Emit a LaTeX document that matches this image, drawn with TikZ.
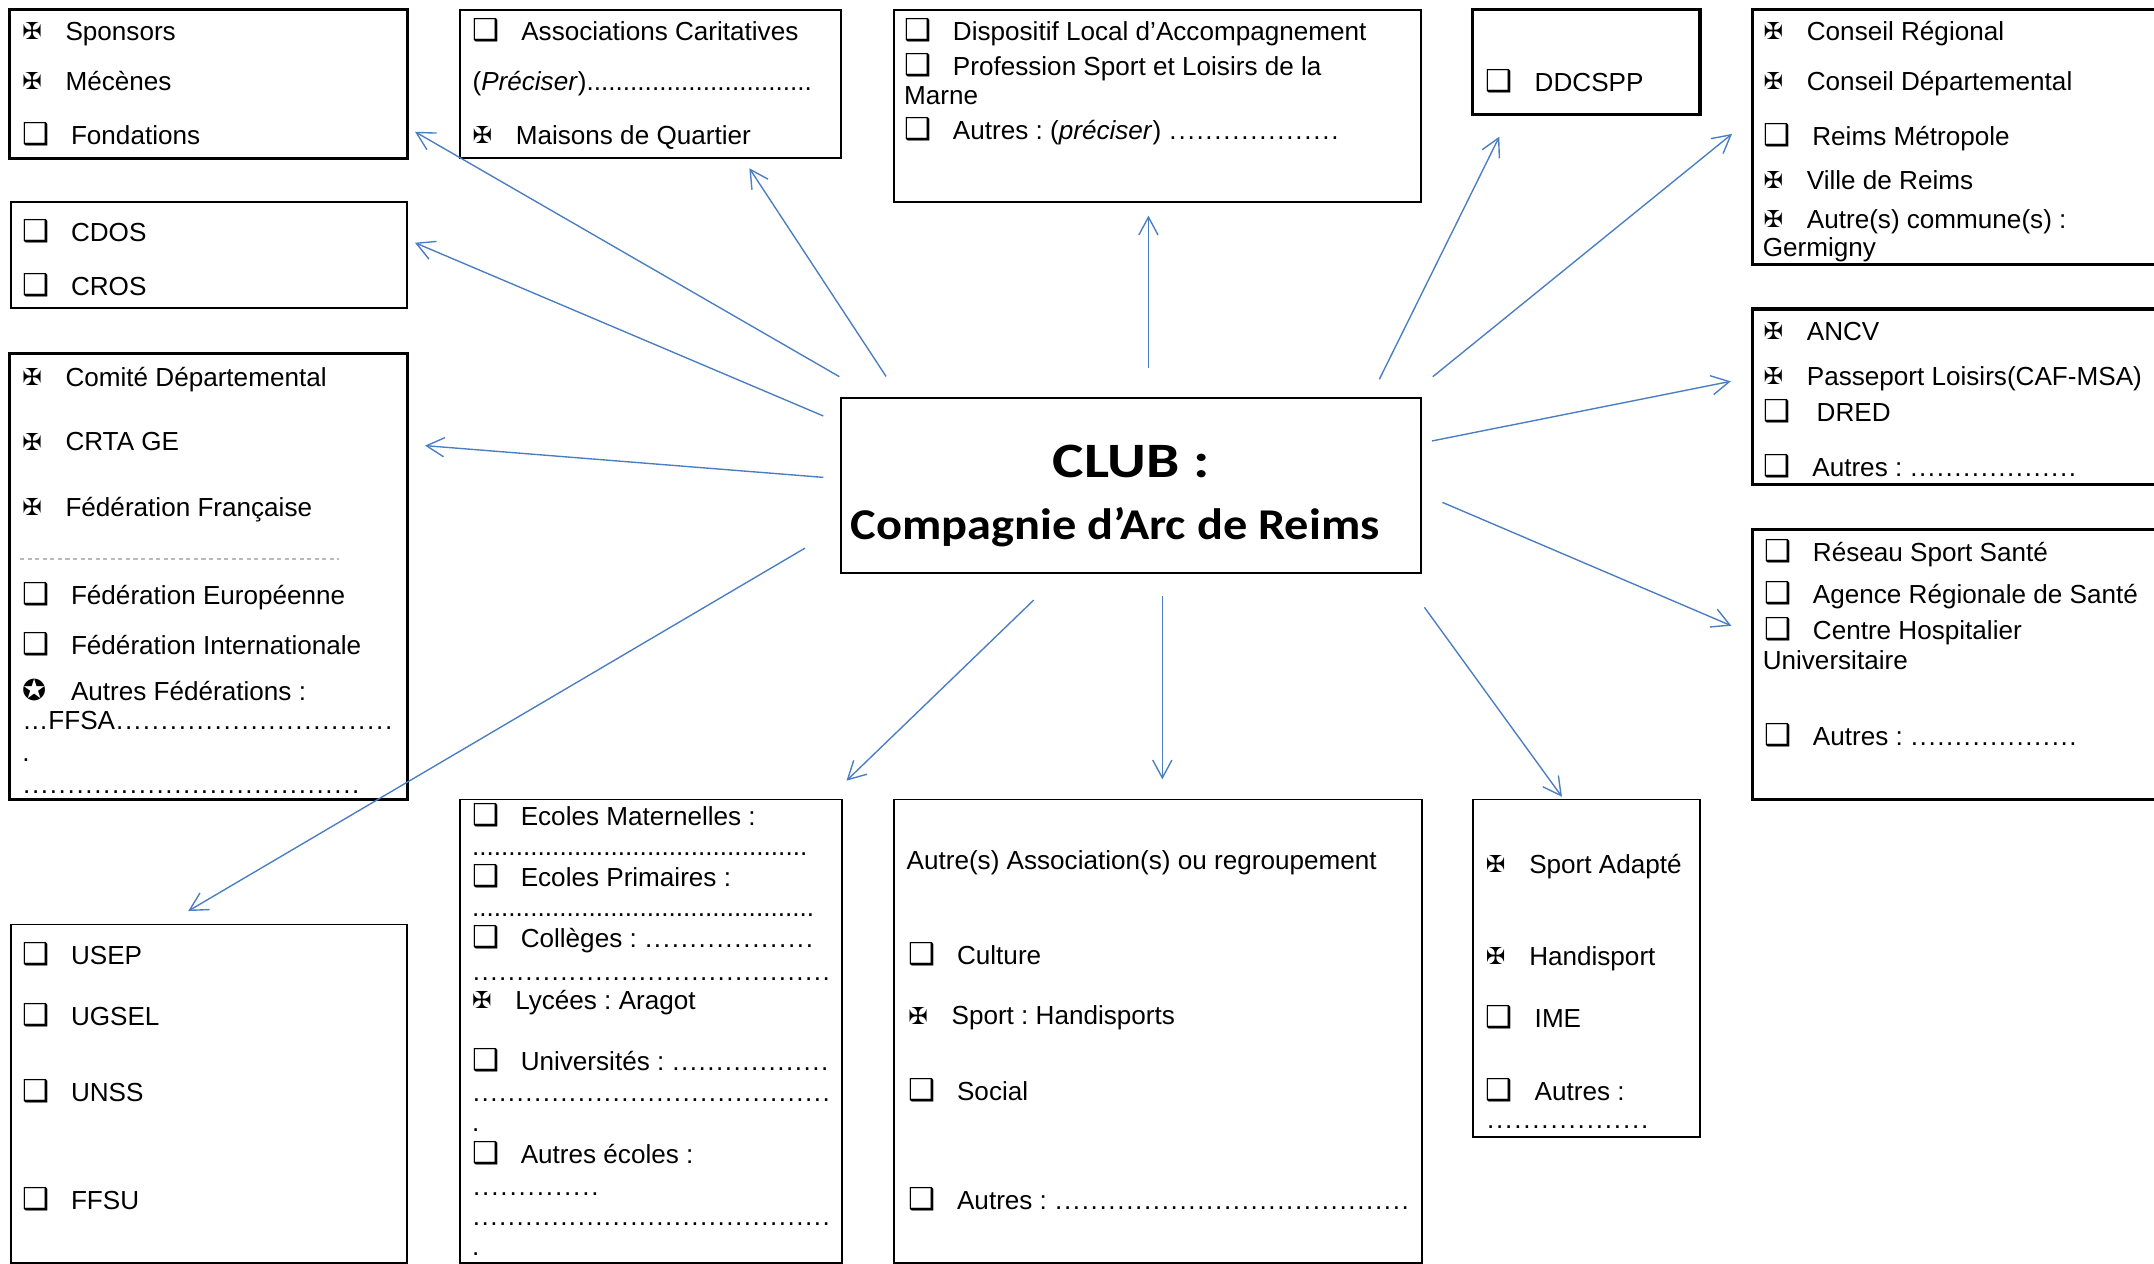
\documentclass[tikz,border=0pt]{standalone}
\usepackage{fontspec}
\setmainfont{Liberation Sans}
\newfontfamily\clubfont{Carlito}
\newfontfamily\symfont{DejaVu Sans}
\usetikzlibrary{arrows.meta}

\definecolor{linkblue}{RGB}{74,126,193}
\definecolor{rulegray}{RGB}{185,185,185}

% check marks in front of the items
\newcommand{\boxsym}{\makebox[35.5pt][l]{\fontsize{22}{22}\symfont ❑}}
\newcommand{\crosssym}{\makebox[31.5pt][l]{\raisebox{0.5pt}{\fontsize{17}{17}\symfont ✠}}}
\newcommand{\starsym}{\makebox[35.5pt][l]{\fontsize{21}{21}\symfont ✪}}
% text followed by dots up to a given width
\newcommand{\dotsto}[2]{\makebox[#1pt][l]{#2\xleaders\hbox{.}\hfill}}
\newcommand{\ellto}[2]{\makebox[#1pt][l]{#2\xleaders\hbox to 6.33pt{\hss.\hss}\hfill}}

\begin{document}
\frenchspacing
\begin{tikzpicture}[x=1pt, y=-1pt,
BoxThick/.style={draw, line width=2.2pt, anchor=north west, inner sep=0pt,
                outer sep=0pt},
BoxThin/.style={draw, line width=1.3pt, anchor=north west, inner sep=0pt,
                outer sep=0pt},
ItemStyle/.style={anchor=base west, inner sep=0pt,
                font=\fontsize{19}{23}\selectfont},
LinkStyle/.style={draw=linkblue, line width=1pt,
                -{Straight Barb[length=13pt, width=14pt]}},]
\useasboundingbox (0,0) rectangle (1568,920);

% boxes
\node [BoxThick, line width=2pt, minimum width=289.5pt, minimum height=108.3pt] (spons) at (7,7) {};
\node [BoxThin, line width=1.5pt, minimum width=277.5pt, minimum height=108pt] (assoc) at (335,7) {};
\node [BoxThin, line width=1.5pt, minimum width=288.5pt, minimum height=77.5pt] (cdos) at (8,147) {};
\node [BoxThick, minimum width=289.5pt, minimum height=324.8pt] (comite) at (7,257.2) {};
\node [BoxThin, minimum width=288pt, minimum height=246.5pt] (usep) at (8,673) {};
\node [BoxThin, minimum width=278pt, minimum height=337.5pt] (ecoles) at (335,582) {};
\node [BoxThin, minimum width=384pt, minimum height=337.5pt] (autre) at (651,582) {};
\node [BoxThin, line width=1.4pt, minimum width=165.5pt, minimum height=246pt] (adapte) at (1072,582) {};
\node [BoxThick, minimum width=165.5pt, minimum height=76pt] (ddcspp) at (1072,7) {};
\node [BoxThin, minimum width=383.5pt, minimum height=140pt] (dla) at (651,7) {};
\node [BoxThick, minimum width=324.5pt, minimum height=185.5pt] (conseil) at (1275.5,7) {};
\node [BoxThick, line width=2.4pt, minimum width=324.5pt, minimum height=127.5pt] (ancv) at (1275.5,225) {};
\node [BoxThick, minimum width=324.5pt, minimum height=196.7pt] (reseau) at (1275.5,385.3) {};
\node [BoxThin, line width=1.5pt, minimum width=422.4pt, minimum height=127.9pt] (club) at (612.2,289.5) {};

% club
\node [anchor=base, inner sep=0pt] (clubA) at (823.4,347.5)
      {\scalebox{1.2}[1]{\fontsize{36}{36}\clubfont\bfseries CLUB :}};
\node [anchor=base west, inner sep=0pt] (clubB) at (619,392.6)
      {\scalebox{1.1}[1]{\fontsize{32}{32}\clubfont\bfseries Compagnie d’Arc de Reims}};

% sponsors
\node [ItemStyle] (sp1) at (16,29.6) {\crosssym Sponsors};
\node [ItemStyle] (sp2) at (16,66) {\crosssym Mécènes};
\node [ItemStyle] (sp3) at (16,105) {\boxsym Fondations};

% associations
\node [ItemStyle] (as1) at (343.8,29.6) {\boxsym Associations Caritatives};
\node [ItemStyle] (as2) at (343.8,66) {\dotsto{247}{(\textit{Préciser})}};
\node [ItemStyle] (as3) at (343.8,105) {\crosssym Maisons de Quartier};

% cdos
\node [ItemStyle] (cd1) at (16,176) {\boxsym CDOS};
\node [ItemStyle] (cd2) at (16,215) {\boxsym CROS};

% federations
\node [ItemStyle] (cm1) at (16,281) {\crosssym Comité Départemental};
\node [ItemStyle] (cm2) at (16,328.3) {\crosssym CRTA GE};
\node [ItemStyle] (cm3) at (16,376) {\crosssym Fédération Française};
\draw [rulegray, line width=1pt, dash pattern=on 3pt off 2.5pt] (14.6,407) -- (247,407);
\node [ItemStyle] (cm4) at (16,440) {\boxsym Fédération Européenne};
\node [ItemStyle] (cm5) at (16,476.8) {\boxsym Fédération Internationale};
\node [ItemStyle] (cm6) at (16,510) {\starsym Autres Fédérations :};
\node [ItemStyle] (cm7) at (16,531) {\ellto{270}{…FFSA}};
\node [ItemStyle] (cm8) at (16,554.5) {.};
\node [ItemStyle] (cm9) at (16,577.5) {\ellto{246}{}};

% scolaire
\node [ItemStyle] (us1) at (16,701.8) {\boxsym USEP};
\node [ItemStyle] (us2) at (16,746.7) {\boxsym UGSEL};
\node [ItemStyle] (us3) at (16,802) {\boxsym UNSS};
\node [ItemStyle] (us4) at (16,880.8) {\boxsym FFSU};

% ecoles
\node [ItemStyle] (ec1) at (343.4,600.6) {\boxsym Ecoles Maternelles :};
\node [ItemStyle] (ec2) at (343.4,622.4) {\dotsto{244}{}};
\node [ItemStyle] (ec3) at (343.4,645) {\boxsym Ecoles Primaires :};
\node [ItemStyle] (ec4) at (343.4,667.3) {\dotsto{249}{}};
\node [ItemStyle] (ec5) at (343.4,690) {\ellto{249}{\boxsym Collèges : }};
\node [ItemStyle] (ec6) at (343.4,713.4) {\ellto{261}{}};
\node [ItemStyle] (ec7) at (343.4,734.8) {\crosssym Lycées : Aragot};
\node [ItemStyle] (ec8) at (343.4,779.4) {\ellto{260}{\boxsym Universités : }};
\node [ItemStyle] (ec9) at (343.4,802) {\ellto{261}{}};
\node [ItemStyle] (ec10) at (343.4,823.8) {.};
\node [ItemStyle] (ec11) at (343.4,846.8) {\boxsym Autres écoles :};
\node [ItemStyle] (ec12) at (343.4,870) {\ellto{93}{}};
\node [ItemStyle] (ec13) at (343.4,891.8) {\ellto{261}{}};
\node [ItemStyle] (ec14) at (343.4,913.6) {.};

% autres associations
\node [ItemStyle] (au1) at (659.8,633.3) {Autre(s) Association(s) ou regroupement};
\node [ItemStyle] (au2) at (661,701.8) {\boxsym Culture};
\node [ItemStyle] (au3) at (661,746) {\crosssym Sport : Handisports};
\node [ItemStyle] (au4) at (661,801.3) {\boxsym Social};
\node [ItemStyle] (au5) at (661,880.8) {\ellto{365}{\boxsym Autres : }};

% handicap
\node [ItemStyle] (ad1) at (1081.5,635.7) {\crosssym Sport Adapté};
\node [ItemStyle] (ad2) at (1081.5,702.6) {\crosssym Handisport};
\node [ItemStyle] (ad3) at (1081.5,747.8) {\boxsym IME};
\node [ItemStyle] (ad4) at (1081.5,800.8) {\boxsym Autres :};
\node [ItemStyle] (ad5) at (1081.5,821.6) {\ellto{119}{}};

% etat
\node [ItemStyle] (dd1) at (1081.5,66.3) {\boxsym DDCSPP};
\node [ItemStyle] (dl1) at (658,29.6) {\boxsym Dispositif Local d’Accompagnement};
\node [ItemStyle] (dl2) at (658,55.3) {\boxsym Profession Sport et Loisirs de la};
\node [ItemStyle] (dl3) at (658,76.4) {Marne};
\node [ItemStyle] (dl4) at (658,101.9) {\ellto{317}{\boxsym Autres : (\textit{préciser}) }};

% collectivites
\node [ItemStyle] (cr1) at (1283.6,29.6) {\crosssym Conseil Régional};
\node [ItemStyle] (cr2) at (1283.6,66) {\crosssym Conseil Départemental};
\node [ItemStyle] (cr3) at (1283.6,105.6) {\boxsym Reims Métropole};
\node [ItemStyle] (cr4) at (1283.6,137.8) {\crosssym Ville de Reims};
\node [ItemStyle] (cr5) at (1283.6,166.2) {\crosssym Autre(s) commune(s) :};
\node [ItemStyle] (cr6) at (1283,186.8) {Germigny};

% aides
\node [ItemStyle] (an1) at (1283.6,248) {\crosssym ANCV};
\node [ItemStyle] (an2) at (1283.6,280.3) {\crosssym Passeport Loisirs(CAF-MSA)};
\node [ItemStyle] (an3) at (1283.6,307) {\boxsym \,DRED};
\node [ItemStyle] (an4) at (1283.6,347) {\ellto{228}{\boxsym Autres : }};

% sante
\node [ItemStyle] (rs1) at (1284,409) {\boxsym Réseau Sport Santé};
\node [ItemStyle] (rs2) at (1284,439.3) {\boxsym Agence Régionale de Santé};
\node [ItemStyle] (rs3) at (1284,465.3) {\boxsym Centre Hospitalier};
\node [ItemStyle] (rs4) at (1283,487.4) {Universitaire};
\node [ItemStyle] (rs5) at (1284,543) {\ellto{228}{\boxsym Autres : }};

% arrows
\coordinate (fSpons) at (611,274.2);    \coordinate (tSpons) at (302.1,95.9);
\coordinate (fAssoc) at (645,274);      \coordinate (tAssoc) at (545.5,122.5);
\coordinate (fDla) at (836,268);        \coordinate (tDla) at (836,157);
\coordinate (fDdcspp) at (1004.1,276.1); \coordinate (tDdcspp) at (1091.4,99.5);
\coordinate (fConseil) at (1043,274.2); \coordinate (tConseil) at (1260.8,97.5);
\coordinate (fAncv) at (1042.4,321);    \coordinate (tAncv) at (1259.9,277.6);
\coordinate (fReseau) at (1050,365.7);  \coordinate (tReseau) at (1260.3,455.5);
\coordinate (fAdapte) at (1036.9,442.1); \coordinate (tAdapte) at (1137,580);
\coordinate (fAutre) at (846.1,433.9);  \coordinate (tAutre) at (846.1,567.3);
\coordinate (fEcoles) at (752.5,436.8); \coordinate (tEcoles) at (616.2,568.3);
\coordinate (fUsep) at (586,399);       \coordinate (tUsep) at (137,663.2);
\coordinate (fComite) at (599.3,347.5); \coordinate (tComite) at (309.4,324.4);
\coordinate (fCdos) at (599.3,302.8);   \coordinate (tCdos) at (302.1,176.7);

\draw [LinkStyle] (fSpons) -- (tSpons);
\draw [LinkStyle] (fAssoc) -- (tAssoc);
\draw [LinkStyle] (fDla) -- (tDla);
\draw [LinkStyle] (fDdcspp) -- (tDdcspp);
\draw [LinkStyle] (fConseil) -- (tConseil);
\draw [LinkStyle] (fAncv) -- (tAncv);
\draw [LinkStyle] (fReseau) -- (tReseau);
\draw [LinkStyle] (fAdapte) -- (tAdapte);
\draw [LinkStyle] (fAutre) -- (tAutre);
\draw [LinkStyle] (fEcoles) -- (tEcoles);
\draw [LinkStyle] (fUsep) -- (tUsep);
\draw [LinkStyle] (fComite) -- (tComite);
\draw [LinkStyle] (fCdos) -- (tCdos);
\end{tikzpicture}
\end{document}
